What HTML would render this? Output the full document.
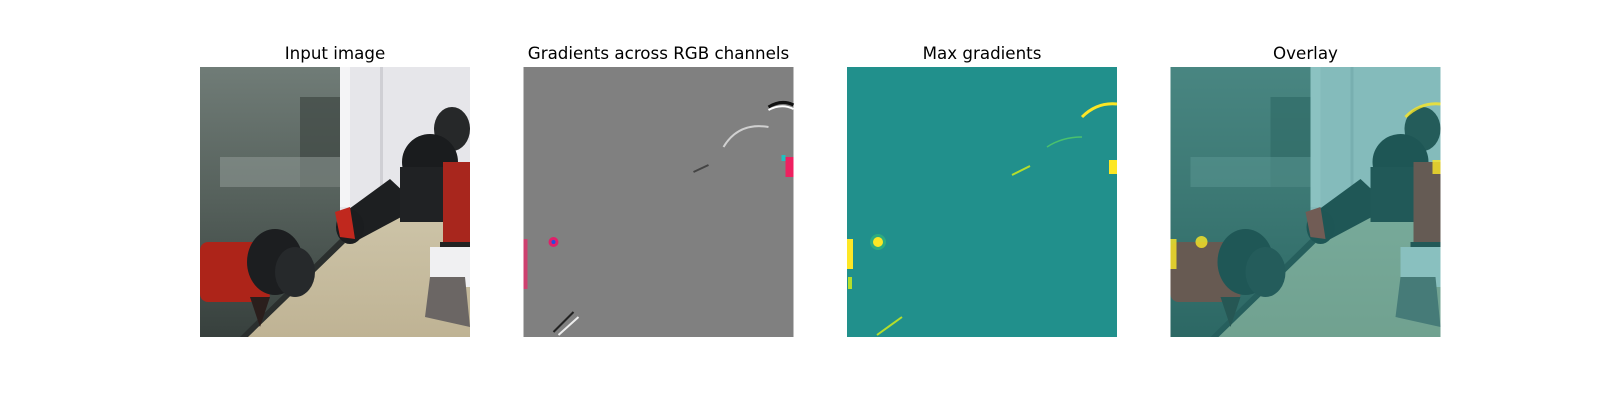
<!DOCTYPE html>
<html><head><meta charset="utf-8"><style>
html,body{margin:0;padding:0;background:#fff;width:1600px;height:400px;overflow:hidden}
text{font-family:"DejaVu Sans","Liberation Sans",sans-serif;font-size:16.7px;fill:#000}
</style></head><body>
<svg width="1600" height="400" viewBox="0 0 1600 400">
<defs>
<linearGradient id="glass" x1="0" y1="0" x2="0" y2="1">
<stop offset="0" stop-color="#707c77"/><stop offset="0.5" stop-color="#55605b"/><stop offset="1" stop-color="#37403d"/></linearGradient>
<linearGradient id="floor" x1="0" y1="0" x2="0" y2="1">
<stop offset="0" stop-color="#cdc4a8"/><stop offset="1" stop-color="#bfb394"/></linearGradient>
<g id="scene">
<rect x="0" y="0" width="270" height="270" fill="url(#glass)"/>
<rect x="140" y="0" width="130" height="170" fill="#e6e6ea"/>
<rect x="140" y="0" width="10" height="140" fill="#f4f4f6"/>
<rect x="180" y="0" width="3" height="150" fill="#cfcfd4"/>
<rect x="100" y="30" width="40" height="90" fill="#3e4743" opacity="0.7"/>
<rect x="20" y="90" width="120" height="30" fill="#96a09c" opacity="0.5"/>
<polygon points="45,270 140,175 200,150 270,145 270,270" fill="url(#floor)"/>
<polygon points="40,270 140,172 145,176 48,270" fill="#2b2f2e"/>
<ellipse cx="252" cy="62" rx="18" ry="22" fill="#262829"/>
<polygon points="138,150 190,112 220,140 160,172" fill="#1d1f21"/>
<ellipse cx="150" cy="160" rx="14" ry="17" fill="#1b1d1f"/>
<circle cx="230" cy="95" r="28" fill="#1a1c1e"/>
<rect x="200" y="100" width="45" height="55" fill="#202224"/>
<rect x="243" y="95" width="27" height="100" fill="#a8261d"/>
<rect x="240" y="175" width="30" height="30" fill="#222"/>
<rect x="230" y="180" width="40" height="40" fill="#f0f0f2"/>
<polygon points="230,210 265,210 270,260 225,250" fill="#6b6664"/>
<rect x="0" y="175" width="70" height="60" rx="8" fill="#ad2419"/>
<ellipse cx="75" cy="195" rx="28" ry="33" fill="#1c1e20"/>
<ellipse cx="95" cy="205" rx="20" ry="25" fill="#26292b"/>
<polygon points="50,230 70,230 60,260" fill="#2a1e1c"/>
<polygon points="135,145 150,140 155,172 140,170" fill="#c0281e"/>
</g>
</defs>

<g>
<text x="335" y="59" text-anchor="middle">Input image</text>
<use href="#scene" x="200" y="67"/>
</g>

<g>
<text x="658.5" y="59" text-anchor="middle">Gradients across RGB channels</text>
<rect x="523.5" y="67" width="270" height="270" fill="#808080"/>
<g transform="translate(523.5,67)" fill="none" stroke-width="2">
<path d="M200,80 Q215,55 245,60" stroke="#d0d0d0"/>
<path d="M245,40 Q258,32 270,38" stroke="#111" stroke-width="3"/>
<path d="M245,43 Q258,36 270,42" stroke="#fff" stroke-width="2"/>
<path d="M170,105 L185,98" stroke="#444"/>
<path d="M30,265 L50,245" stroke="#222"/>
<path d="M35,268 L55,250" stroke="#eee"/>
<circle cx="30" cy="175" r="5" fill="#e0206a" stroke="none"/>
<circle cx="30" cy="175" r="2" fill="#2050e0" stroke="none"/>
<rect x="0" y="172" width="4" height="50" fill="#e0306a" stroke="none" opacity="0.8"/>
<rect x="262" y="90" width="8" height="20" fill="#ee2060" stroke="none"/>
<rect x="258" y="88" width="4" height="6" fill="#20c0c0" stroke="none"/>
</g>
</g>

<g>
<text x="982" y="59" text-anchor="middle">Max gradients</text>
<rect x="847" y="67" width="270" height="270" fill="#21908c"/>
<g transform="translate(847,67)">
<circle cx="31" cy="175" r="8" fill="#35b779" opacity="0.7"/>
<circle cx="31" cy="175" r="5" fill="#fde725"/>
<rect x="0" y="172" width="6" height="30" fill="#fde725"/>
<rect x="1" y="210" width="4" height="12" fill="#b5de2b"/>
<path d="M235,50 Q250,35 270,37" stroke="#fde725" stroke-width="3" fill="none"/>
<path d="M200,80 Q215,70 235,70" stroke="#4ac16d" stroke-width="1.5" fill="none"/>
<path d="M165,108 L183,99" stroke="#b5de2b" stroke-width="2" fill="none"/>
<rect x="262" y="93" width="8" height="14" fill="#fde725"/>
<path d="M30,268 L55,250" stroke="#b5de2b" stroke-width="2" fill="none"/>
</g>
</g>

<g>
<text x="1305.5" y="59" text-anchor="middle">Overlay</text>
<use href="#scene" x="1170.5" y="67"/>
<rect x="1170.5" y="67" width="270" height="270" fill="#21908c" opacity="0.5"/>
<g transform="translate(1170.5,67)">
<circle cx="31" cy="175" r="6" fill="#fde725" opacity="0.8"/>
<rect x="0" y="172" width="6" height="30" fill="#fde725" opacity="0.8"/>
<path d="M235,50 Q250,35 270,37" stroke="#fde725" stroke-width="3" fill="none" opacity="0.8"/>
<rect x="262" y="93" width="8" height="14" fill="#fde725" opacity="0.8"/>
</g>
</g>
</svg>
</body></html>
